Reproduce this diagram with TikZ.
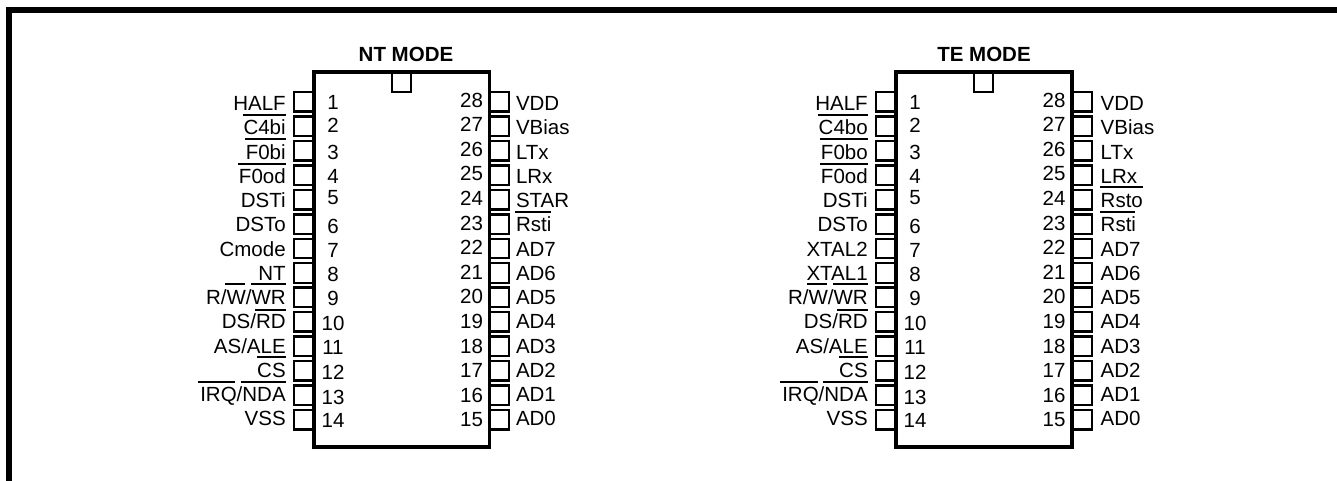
\documentclass[tikz,border=0pt]{standalone}
\usepackage{fontspec}
\setmainfont{Liberation Sans}
\tikzset{
  x=1pt,y=-1pt,
  every node/.style={inner sep=0pt,outer sep=0pt},
  lbl/.style={font=\fontsize{20.5}{24}\selectfont,text=black},
  ttl/.style={font=\fontsize{20.5}{24}\selectfont\bfseries,text=black},
  chipbody/.style={draw=black,line width=3.3pt,fill=white},
  pinbox/.style={draw=black,line width=2.4pt,fill=white,minimum width=19.5pt,minimum height=19.5pt},
  bar/.style={draw=black,line width=1.9pt},
  frameline/.style={draw=black,line width=6pt},
}
\newcommand{\pinrow}[1]{\pgfmathsetmacro{\ybase}{110.7+24.25*(#1)}}
\begin{document}
\begin{tikzpicture}
\useasboundingbox (0,0) rectangle (1337,481);
\fill[white] (0,0) rectangle (1337,481);
\draw[frameline] (1337,10) -- (9,10) -- (9,481);

% ---------- chips
\foreach \p/\xl/\xr/\xn/\ttlx/\ttltxt in {a/314/489.5/392/406/NT MODE,b/896/1072/974/984/TE MODE}{
  \pgfmathsetmacro{\xnr}{\xn+19}
  \foreach \i in {0,...,13}{
    \pgfmathsetmacro{\ytop}{92+24.46*\i}
    \pgfmathsetmacro{\xa}{\xl-10}
    \pgfmathsetmacro{\xb}{\xr+10}
    \node[pinbox] (\p L\i) at (\xa,\ytop+9.75) {};
    \node[pinbox] (\p R\i) at (\xb,\ytop+9.75) {};
  }
  \draw[chipbody] (\xl,72) rectangle (\xr,447);
  \draw[line width=2.8pt] (\xn,71) -- (\xn,92) -- (\xnr,92) -- (\xnr,71);
  \node[ttl,anchor=base] (\p T) at (\ttlx,62) {\ttltxt};
  % pin numbers, left side
  \pgfmathsetmacro{\xna}{\xl+19}
  \foreach \n/\yc in {1/102,2/125,3/152,4/176,5/198,6/226,7/250,8/274,9/298,10/323,11/347,12/372,13/397,14/420}{
    \node[lbl,anchor=center] (\p N\n) at (\xna,\yc) {\n};
  }
  % pin numbers, right side
  \pgfmathsetmacro{\xnb}{\xr-18}
  \foreach \n [count=\k from 0] in {28,27,...,15}{
    \pgfmathsetmacro{\yc}{100+24.6*\k}
    \node[lbl,anchor=center] (\p N\n) at (\xnb,\yc) {\n};
  }
}

% ---------- labels, NT mode
\foreach \t [count=\k from 0] in {HALF,C4bi,F0bi,F0od,DSTi,DSTo,Cmode,NT,R/W/WR,DS/RD,AS/ALE,CS,IRQ/NDA,VSS}{
  \pinrow{\k}
  \node[lbl,anchor=base east] (aLt\k) at (285.7,\ybase) {\t};
}
\foreach \t [count=\k from 0] in {VDD,VBias,LTx,LRx,STAR,Rsti,AD7,AD6,AD5,AD4,AD3,AD2,AD1,AD0}{
  \pinrow{\k}
  \node[lbl,anchor=base west] (aRt\k) at (516,\ybase) {\t};
}
% ---------- labels, TE mode
\foreach \t [count=\k from 0] in {HALF,C4bo,F0bo,F0od,DSTi,DSTo,XTAL2,XTAL1,R/W/WR,DS/RD,AS/ALE,CS,IRQ/NDA,VSS}{
  \pinrow{\k}
  \node[lbl,anchor=base east] (bLt\k) at (867.7,\ybase) {\t};
}
\foreach \t [count=\k from 0] in {VDD,VBias,LTx,LRx,Rsto,Rsti,AD7,AD6,AD5,AD4,AD3,AD2,AD1,AD0}{
  \pinrow{\k}
  \node[lbl,anchor=base west] (bRt\k) at (1100.7,\ybase) {\t};
}

% ---------- overbars, NT mode
\foreach \xa/\xb/\yy in {243/285.7/115,245/285.7/139,238/285.7/164,225/245/284.3,251/285.7/284.3,255/285.7/310,257/285.7/357.3,198/235/382,241/285.7/382,515/550.7/211.7}{
  \draw[bar] (\xa,\yy) -- (\xb,\yy);
}
% ---------- overbars, TE mode
\foreach \xa/\xb/\yy in {817.7/867.7/115,820/867.7/139,820/867.7/164,806.7/826.7/284.3,833/867.7/284.3,837/867.7/310,839/867.7/357.3,780/817.7/382,823/867.7/382,1100/1142.7/187,1100/1135/211.7}{
  \draw[bar] (\xa,\yy) -- (\xb,\yy);
}
\end{tikzpicture}
\end{document}
